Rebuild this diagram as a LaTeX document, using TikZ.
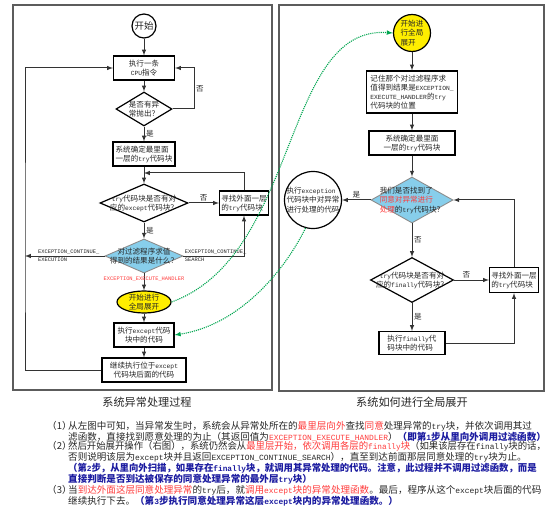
\documentclass[tikz,border=0pt]{standalone}
\usepackage{fontspec}
\setmainfont{Noto Sans CJK SC}
\newfontfamily\enfont[Scale=0.83]{Liberation Mono}
\usetikzlibrary{shapes.geometric}
\usepackage{xcolor}
\definecolor{skyfill}{HTML}{87CEEB}
\definecolor{sunfill}{HTML}{FFEE00}
\definecolor{hot}{HTML}{FF3B3B}
\definecolor{navy}{HTML}{1C1CA0}
\definecolor{link}{HTML}{00A54F}
\definecolor{frame}{HTML}{5C5C5C}
\definecolor{ink}{HTML}{262626}

\newcommand{\lat}[1]{{\enfont #1}}
\newcommand{\boxfont}{\fontsize{7.6}{9.2}\selectfont}
\newcommand{\codefont}{\enfont\fontsize{6.5}{8}\selectfont}
\newcommand{\boxtext}[2][c]{\smash{\raisebox{-0.4em}{\makebox[0pt]{\begin{tabular}{@{}#1@{}}#2\end{tabular}}}}}
\newcommand{\warm}[1]{\textcolor{hot}{#1}}
\newcommand{\stepnote}[1]{{\bfseries\color{navy}#1}}
\newcommand{\squeeze}[1]{\scalebox{0.98}[1]{#1}}

\tikzset{
  proc/.style={rectangle, draw=black, line width=1.2bp, fill=white, inner sep=0pt, text=ink},
  decide/.style={diamond, draw=black, line width=1.2bp, fill=white, inner sep=0pt, text=ink},
  filterd/.style={decide, draw=black!45, line width=0.9bp, fill=skyfill},
  sun/.style={draw=black, line width=1.2bp, fill=sunfill, inner sep=0pt, text=ink},
  flow/.style={->, >=latex, line width=1bp, draw=black!80},
  jump/.style={->, >=latex, densely dotted, line width=1.1bp, draw=link},
  tag/.style={font=\boxfont, text=ink, inner sep=1.5bp},
  codetag/.style={font=\codefont, text=ink, inner sep=1bp, align=left},
  panel/.style={draw=frame, line width=1.5bp},
}

\begin{document}
\begin{tikzpicture}[x=1bp, y=-1bp, font=\boxfont]
    \useasboundingbox (0,0) rectangle (553,515);

    % the two panels and their captions
    \draw[panel] (13,5) rectangle (272,390);
    \draw[panel] (279,5) rectangle (544,391);
    \node[font=\fontsize{11.2}{13}\selectfont, text=ink] (lcap) at (147,402) {系统异常处理过程};
    \node[font=\fontsize{11.2}{13}\selectfont, text=ink] (rcap) at (412,402) {系统如何进行全局展开};

    % left: how an exception is dispatched
    \node[proc, circle, minimum size=24bp, font=\fontsize{9.5}{11}\selectfont] (start) at (144,26) {\boxtext{开始}};
    \node[proc, minimum width=61bp, minimum height=24bp] (cpu) at (144,68) {\boxtext{执行一条\\\lat{CPU}指令}};
    \node[decide, minimum width=56bp, minimum height=34bp] (thrown) at (144,109) {\boxtext{是否有异\\常抛出？}};
    \node[proc, minimum width=62bp, minimum height=24bp] (inner) at (144,154) {\boxtext[l]{系统确定最里面\\一层的\lat{try}代码块}};
    \node[decide, minimum width=88bp, minimum height=38bp] (hasexc) at (144,203) {\boxtext{\lat{try}代码块是否有对\\应的\lat{except}代码块？}};
    \node[proc, minimum width=49bp, minimum height=24bp] (outer) at (244,203) {\boxtext[l]{寻找外面一层\\的\lat{try}代码块}};
    \node[filterd, minimum width=78bp, minimum height=34bp] (filter) at (144,256) {\boxtext{对过滤程序求值\\得到的结果是什么？}};
    \node[sun, ellipse, minimum width=54bp, minimum height=22bp] (unwind) at (144,302) {\boxtext{开始进行\\全局展开}};
    \node[proc, minimum width=60bp, minimum height=24bp] (handler) at (144,335) {\boxtext{执行\lat{except}代码\\块中的代码}};
    \node[proc, minimum width=84bp, minimum height=24bp] (cont) at (144,370) {\boxtext{继续执行位于\lat{except}\\代码块后面的代码}};

    \coordinate (lrail) at (25,256);
    \coordinate (cpuloop) at (194,68);
    \coordinate (merge) at (144,173);

    \draw[flow] (start) -- (cpu);
    \draw[flow] (cpu) -- (thrown);
    \draw[flow] (thrown.east) -| node[tag, pos=0.75, right] (no1) {否} (cpuloop) -- (cpu.east);
    \draw[flow] (thrown) -- node[tag, right] (yes1) {是} (inner);
    \draw[flow] (inner) -- (hasexc);
    \draw[flow] (hasexc) -- node[tag, above] (no2) {否} (outer);
    \draw[flow] (outer.north) |- (merge);
    \draw[flow] (hasexc) -- node[tag, right] (yes2) {是} (filter);
    \draw[flow] (filter.west) -- node[codetag, pos=0.45] (cexec) {EXCEPTION\_CONTINUE\_\\EXECUTION} (filter.west -| lrail);
    \draw[flow] (filter.east) -| node[codetag, pos=0, anchor=west] (csearch) {EXCEPTION\_CONTINUE\_\\SEARCH} (outer.south);
    \draw[flow] (filter) -- node[codetag, text=hot, pos=0.35] (chandle) {EXCEPTION\_EXECUTE\_HANDLER} (unwind);
    \draw[flow] (unwind) -- (handler);
    \draw[flow] (handler) -- (cont);
    \draw[flow] (cont.west) -| (lrail) |- (cpu.west);

    % right: global unwind
    \node[sun, circle, minimum size=37bp] (gstart) at (412,33) {\boxtext[l]{开始进\\行全局\\展开}};
    \node[proc, minimum width=91bp, minimum height=42bp] (remember) at (412,92) {\boxtext[l]{记住那个对过滤程序求\\值得到结果是\lat{EXCEPTION\_}\\\lat{EXECUTE\_HANDLER}的\lat{try}\\代码块的位置}};
    \node[proc, minimum width=86bp, minimum height=24bp] (rinner) at (412,143) {\boxtext{系统确定最里面\\一层的\lat{try}代码块}};
    \node[filterd, minimum width=82bp, minimum height=46bp] (found) at (412,200) {\boxtext[l]{我们是否找到了\\\warm{同意对异常进行}\\\warm{处理}的\lat{try}代码块？}};
    \node[proc, circle, minimum size=57bp] (exec) at (313,200) {\boxtext[l]{执行\lat{exception}\\代码块中对异常\\进行处理的代码}};
    \node[decide, minimum width=83bp, minimum height=45bp] (hasfin) at (412,280) {\boxtext{\lat{try}代码块是否有对\\应的\lat{finally}代码块？}};
    \node[proc, minimum width=49bp, minimum height=25bp] (router) at (514,280) {\boxtext[l]{寻找外面一层\\的\lat{try}代码块}};
    \node[proc, minimum width=66bp, minimum height=23bp] (fin) at (412,343) {\boxtext[l]{执行\lat{finally}代\\码块中的代码}};

    \draw[flow] (gstart) -- (remember);
    \draw[flow] (remember) -- (rinner);
    \draw[flow] (rinner) -- (found);
    \draw[flow] (found) -- node[tag, above] (yes3) {是} (exec);
    \draw[flow] (found) -- node[tag, right] (no3) {否} (hasfin);
    \draw[flow] (hasfin) -- node[tag, above, pos=0.35] (no4) {否} (router);
    \draw[flow] (router.north) |- (found.east);
    \draw[flow] (hasfin) -- node[tag, right] (yes4) {是} (fin);
    \draw[flow] (fin.east) -| (router.south);

    % jumps between the two panels
    \draw[jump] (unwind.east) .. controls (300,255) and (282,25) .. (gstart.west);
    \draw[jump] (exec.255) .. controls (285,270) and (240,325) .. (handler.east);

    % notes under the panels
    \node[anchor=north west, align=left, inner sep=0pt, text=ink, font=\fontsize{9.6}{9.6}\selectfont] (notes) at (47,421) {%
      \makebox[21bp][l]{（1）}从左图中可知，当异常发生时，系统会从异常处所在的\warm{最里层向外}查找\warm{同意}处理异常的\lat{try}块，并依次调用其过\\
      \hspace*{21bp}滤函数，直接找到愿意处理的为止（其返回值为\warm{\lat{EXCEPTION\_EXECUTE\_HANDLER}}）\stepnote{（即第\lat{1}步从里向外调用过滤函数）}\\
      \makebox[21bp][l]{（2）}\squeeze{然后开始展开操作（右图），系统仍然会从\warm{最里层开始，依次调用各层的\lat{finally}块}（如果该层存在\lat{finally}块的话，}\\
      \hspace*{21bp}否则说明该层为\lat{except}块并且返回\lat{EXCEPTION\_CONTINUE\_SEARCH}），直至到达前面那层同意处理的\lat{try}块为止。\\
      \hspace*{21bp}\squeeze{\stepnote{（第\lat{2}步，从里向外扫描，如果存在\lat{finally}块，就调用其异常处理的代码。注意，此过程并不调用过滤函数，而是}}\\
      \hspace*{21bp}\stepnote{直接判断是否到达被保存的同意处理异常的最外层\lat{try}块）}\\
      \makebox[21bp][l]{（3）}当\warm{到达外面这层同意处理异常}的\lat{try}后，就\warm{调用\lat{except}块的异常处理函数}。最后，程序从这个\lat{except}块后面的代码\\
      \hspace*{21bp}继续执行下去。\stepnote{（第\lat{3}步执行同意处理异常这层\lat{except}块内的异常处理函数。）}};
\end{tikzpicture}
\end{document}
